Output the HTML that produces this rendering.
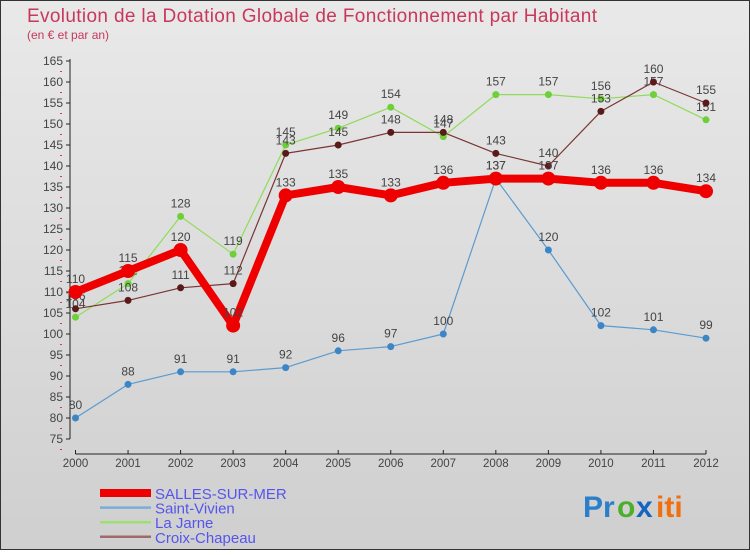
<!DOCTYPE html>
<html><head><meta charset="utf-8"><style>
body{margin:0;width:750px;height:550px;overflow:hidden;font-family:"Liberation Sans",sans-serif}
svg text{font-family:"Liberation Sans",sans-serif}
</style></head><body>
<svg id="c" width="750" height="550" xmlns="http://www.w3.org/2000/svg">
<defs><linearGradient id="bg" x1="0" y1="0" x2="0" y2="1"><stop offset="0" stop-color="#e9e9e9"/><stop offset="1" stop-color="#cfcfcf"/></linearGradient></defs>
<rect x="0.5" y="0.5" width="749" height="549" fill="url(#bg)" stroke="#333"/>
<text x="27" y="22" font-size="19" fill="#c8385a" textLength="570">Evolution de la Dotation Globale de Fonctionnement par Habitant</text>
<text x="27" y="39" font-size="12" fill="#c8385a">(en € et par an)</text>
<g id="axes"></g><g id="series"></g><g id="legend"></g>
<g font-size="30" font-weight="bold">
<text x="583" y="517" fill="#2a7fc8">Pr</text><text x="617" y="517" fill="#4caf2a">o</text><text x="636" y="517" fill="#1565c0">x</text><text x="656" y="517" fill="#f07010">iti</text>
</g>
</svg>
<script>
const years=[2000,2001,2002,2003,2004,2005,2006,2007,2008,2009,2010,2011,2012];
const yTicks=[75,80,85,90,95,100,105,110,115,120,125,130,135,140,145,150,155,160,165];
const salles=[110,115,120,102,133,135,133,136,137,137,136,136,134];
const vivien=[80,88,91,91,92,96,97,100,137,120,102,101,99];
const jarne=[104,112,128,119,145,149,154,147,157,157,156,157,151];
const croix=[106,108,111,112,143,145,148,148,143,140,153,160,155];
const NS="http://www.w3.org/2000/svg";
const X=i=>75.5+i*(706-75.5)/12;
const Y=v=>292-(v-110)*4.2;
function mk(t,a,p){const e=document.createElementNS(NS,t);for(const k in a)e.setAttribute(k,a[k]);p.appendChild(e);return e;}
const ax=document.getElementById('axes');
const yl=mk('line',{x1:70,y1:Y(165)-2,x2:70,y2:Y(75),stroke:'#222'},ax);


yTicks.forEach(v=>{
 mk('line',{x1:66,y1:Y(v),x2:70,y2:Y(v),stroke:'#222'},ax);
 mk('line',{x1:60,y1:Y(v)+10.5,x2:62,y2:Y(v)+10.5,stroke:'#e33'},ax);
 const t=mk('text',{x:63,y:Y(v)+4,'font-size':12,fill:'#444','text-anchor':'end'},ax);t.textContent=v;
 
 
});
const xl=mk('line',{x1:X(0),y1:454,x2:X(12),y2:454,stroke:'#222'},ax);


years.forEach((y,i)=>{
 mk('line',{x1:X(i),y1:450,x2:X(i),y2:454,stroke:'#222'},ax);
 const t=mk('text',{x:X(i),y:467,'font-size':11.5,fill:'#444','text-anchor':'middle'},ax);t.textContent=y;
 
 
});
const sg=document.getElementById('series');
function series(data,color,w,r,name,dot){
 const g=mk('g',{},sg);
 
 
 mk('polyline',{points:data.map((v,i)=>X(i)+','+Y(v)).join(' '),fill:'none',stroke:color,'stroke-width':w,'stroke-linejoin':'round'},g);
 data.forEach((v,i)=>{
  const c=mk('circle',{cx:X(i),cy:Y(v),r:r,fill:dot},g);
  
  
  const t=mk('text',{x:X(i),y:Y(v)-9,'font-size':12,fill:'#444','text-anchor':'middle'},g);t.textContent=v;
  
  
 });
}
series(vivien,'#5b9bd0',1.2,3.5,'saint-vivien-series','#3d86c6');
series(jarne,'#8fdc5a',1.2,3.5,'la-jarne-series','#6fcf3a');
series(croix,'#7a3535',1.2,3.5,'croix-chapeau-series','#5a1a1a');
series(salles,'#ee0000',8,7,'salles-sur-mer-series','#ee0000');
const lg=document.getElementById('legend');
[['SALLES-SUR-MER','#ee0000',8],['Saint-Vivien','#7aaed6',2.5],['La Jarne','#9ee070',2.5],['Croix-Chapeau','#a06a6a',2.5]].forEach((d,i)=>{
 const g=mk('g',{},lg);
 
 
 const y=515+i*14.6-22;
 mk('line',{x1:100,y1:y,x2:151,y2:y,stroke:d[1],'stroke-width':d[2]},g);
 const t=mk('text',{x:155,y:y+6,'font-size':15,fill:'#5555ee'},g);t.textContent=d[0];
});
</script>
</body></html>
